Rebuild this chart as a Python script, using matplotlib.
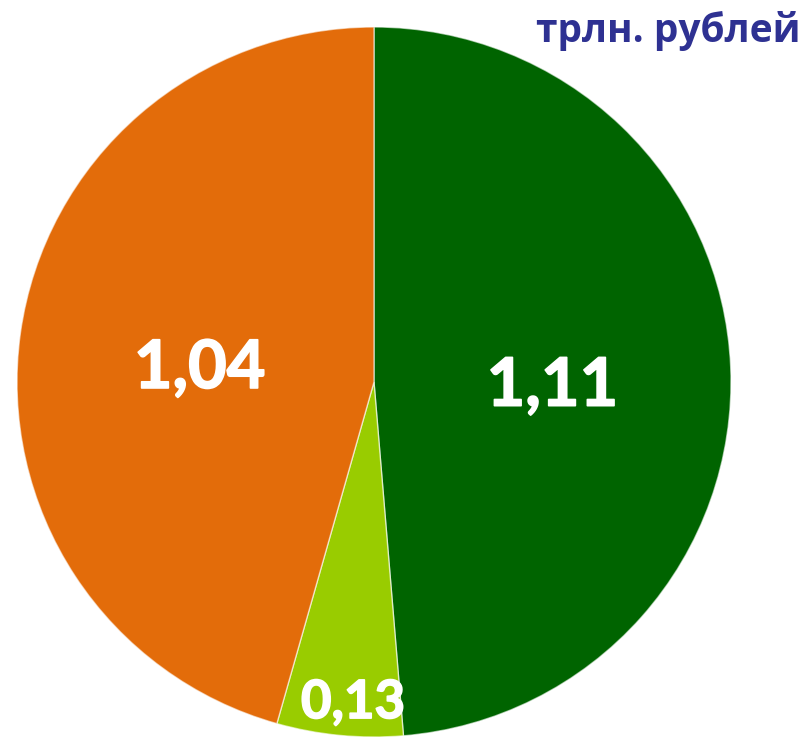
import matplotlib
matplotlib.use("Agg")
import matplotlib.pyplot as plt
import matplotlib.transforms as mtransforms
import matplotlib.patheffects as pe
import numpy as np

values = [1.11, 0.13, 1.04]
labels = ["1,11", "0,13", "1,04"]
colors = ["#006400", "#99CC00", "#E36C0A"]
unit_title = "трлн. рублей"

W, H = 807, 739
fig = plt.figure(figsize=(W / 100, H / 100), dpi=100)
cx, cy, rx, ry = 374, 382, 357, 355
ax = fig.add_axes([(cx - rx) / W, 1 - (cy + ry) / H, 2 * rx / W, 2 * ry / H])

wedges, _ = ax.pie(values, colors=colors, startangle=90, counterclock=False,
                   radius=1, wedgeprops=dict(linewidth=1, edgecolor=(1, 1, 1, 0.6)))
ax.set_xlim(-1, 1)
ax.set_ylim(-1, 1)
ax.set_aspect('auto')
ax.axis('off')

dists = [0.5, 0.905, 0.49]
sizes = [48, 38, 48]
angle_shift = [0, 1.8, 3.6]
pix_dy = [-12, 0, 0]
for w, lab, d, s, da, dy in zip(wedges, labels, dists, sizes, angle_shift, pix_dy):
    th = np.deg2rad((w.theta1 + w.theta2) / 2 + da)
    tr = mtransforms.offset_copy(ax.transData, fig=fig, x=0, y=dy, units='dots')
    ax.text(d * np.cos(th), d * np.sin(th), lab, ha='center', va='center',
            fontsize=s, fontweight='bold', color='white', transform=tr,
            family=['Lato', 'Open Sans', 'DejaVu Sans'],
            path_effects=[pe.withStroke(linewidth=1.2, foreground='white')])

fig.text(800 / W, 1 - 31 / H, unit_title, ha='right', va='center',
         fontsize=28, fontweight='bold', color='#2E3192',
         family=['Open Sans', 'DejaVu Sans'])

fig.savefig("out.png", dpi=100)
